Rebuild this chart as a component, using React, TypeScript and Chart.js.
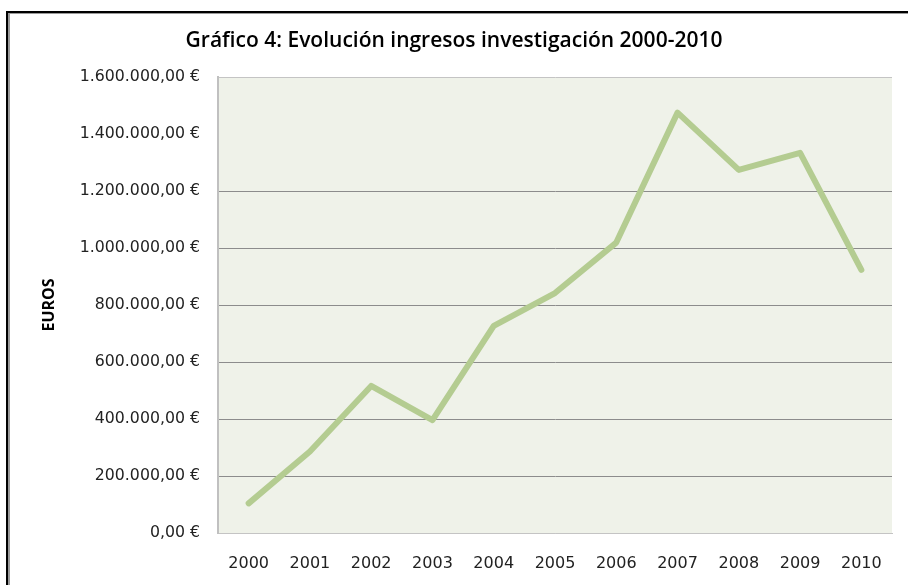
import React, { useEffect, useRef } from "react";
import { Chart, registerables } from "chart.js";

Chart.register(...registerables);

const years = ["2000", "2001", "2002", "2003", "2004", "2005", "2006", "2007", "2008", "2009", "2010"];
const ingresos = [104000, 286000, 516000, 396000, 727000, 842000, 1019000, 1475000, 1274000, 1334000, 923000];
const yTicksMax = 1600000;
const yTickStep = 200000;
const titleText = "Gráfico 4: Evolución ingresos investigación 2000-2010";
const yAxisTitle = "EUROS";

function formatEuro(v: number): string {
  const intPart = Math.round(v).toString();
  const grouped = intPart.replace(/\B(?=(\d{3})+(?!\d))/g, ".");
  return grouped + ",00 €";
}

const framePlugin = {
  id: "framePlugin",
  beforeDraw(chart: any) {
    const { ctx, chartArea, width, height } = chart;
    ctx.save();
    ctx.fillStyle = "#ffffff";
    ctx.fillRect(0, 0, width, height);
    // outer frame (left + top)
    ctx.fillStyle = "#000000";
    ctx.fillRect(6, 11, 2, height - 11);
    ctx.fillRect(6, 11, width - 6, 2);
    ctx.fillStyle = "#9a9a9a";
    ctx.fillRect(8, 13, 2, height - 13);
    ctx.fillRect(8, 13, width - 8, 1);
    // plot background
    ctx.fillStyle = "#eff2e9";
    ctx.fillRect(chartArea.left, chartArea.top, chartArea.right - chartArea.left, chartArea.bottom - chartArea.top);
    ctx.restore();
  },
};

export default function App() {
  const canvasRef = useRef<HTMLCanvasElement | null>(null);

  useEffect(() => {
    if (!canvasRef.current) return;
    const chart = new Chart(canvasRef.current, {
      type: "line",
      data: {
        labels: years,
        datasets: [
          {
            label: "Ingresos",
            data: ingresos,
            borderColor: "#b4cc91",
            borderWidth: 6,
            pointRadius: 0,
            pointHoverRadius: 0,
            tension: 0,
            borderCapStyle: "round",
            borderJoinStyle: "round",
            fill: false,
          },
        ],
      },
      options: {
        responsive: false,
        animation: false,
        layout: { padding: { top: 0, left: 16, right: 16, bottom: 0 } },
        plugins: {
          legend: { display: false },
          tooltip: { enabled: false },
          title: {
            display: true,
            text: titleText,
            color: "#000000",
            font: { family: "'Open Sans'", size: 21, weight: "600", lineHeight: 1.2 },
            padding: { top: 28.8, bottom: 23 },
          },
        },
        scales: {
          x: {
            type: "category",
            offset: true,
            grid: { display: false, drawTicks: false },
            border: { display: true, color: "#c4c4c4", width: 1 },
            ticks: {
              color: "#222222",
              font: { family: "'DejaVu Sans'", size: 16 },
              padding: 21,
              maxRotation: 0,
              autoSkip: false,
            },
            afterFit(scale: any) {
              scale.height = 52;
            },
          },
          y: {
            min: 0,
            max: yTicksMax,
            grid: {
              drawTicks: false,
              color: (c: any) => {
                const v = c.tick ? c.tick.value : 0;
                if (v === 1400000) return "rgba(0,0,0,0)";
                if (v === 1600000 || v === 0) return "#c4c4c4";
                return "#8c8c8c";
              },
              lineWidth: 1,
            },
            border: { display: true, color: "#c0c0c0", width: 2 },
            ticks: {
              stepSize: yTickStep,
              color: "#222222",
              font: { family: "'DejaVu Sans'", size: 15.75 },
              padding: 18,
              callback: (v: any) => formatEuro(Number(v)),
            },
            title: {
              display: true,
              text: yAxisTitle,
              color: "#000000",
              font: { family: "'Open Sans'", size: 16, weight: "bold", lineHeight: 1.2 },
              padding: { top: 24, bottom: 0 },
            },
            afterFit(scale: any) {
              scale.width = 202;
            },
          },
        },
      },
      plugins: [framePlugin],
    });
    return () => chart.destroy();
  }, []);

  return (
    <div style={{ position: "fixed", left: 0, top: 0, width: 908, height: 585, background: "#fff" }}>
      <canvas ref={canvasRef} width={908} height={585} style={{ width: 908, height: 585, display: "block" }} />
    </div>
  );
}
